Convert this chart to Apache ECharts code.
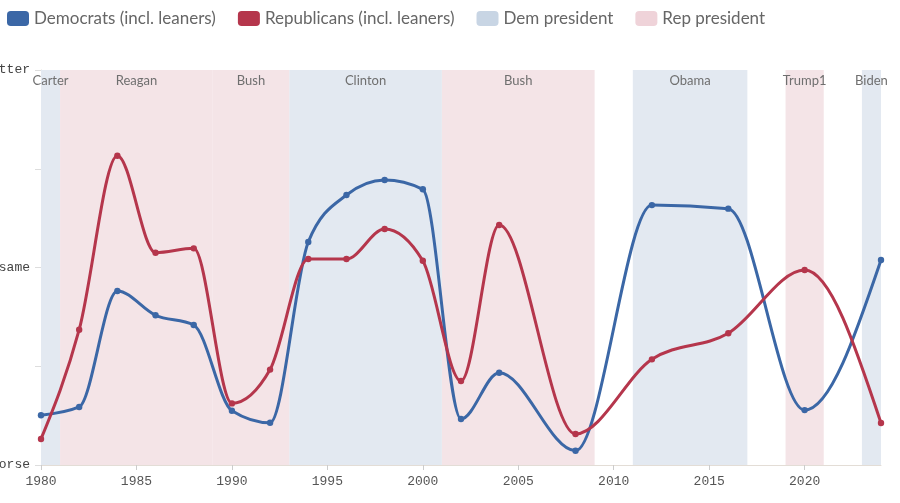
<!DOCTYPE html>
<html>
<head>
<meta charset="utf-8">
<script src="https://cdn.jsdelivr.net/npm/echarts@6/dist/echarts.min.js"></script>
<style>
  html, body { margin: 0; padding: 0; background: #fff; }
  #chart { width: 900px; height: 503px; }
</style>
</head>
<body>
<div id="chart"></div>
<script>
// survey years
const years = [1980, 1982, 1984, 1986, 1988, 1990, 1992, 1994, 1996, 1998, 2000, 2002, 2004, 2008, 2012, 2016, 2020, 2024];
// -1 = worse, 0 = same, 1 = better
const demValues = [-0.748, -0.706, -0.119, -0.242, -0.291, -0.725, -0.786, 0.129, 0.367, 0.443, 0.396, -0.767, -0.533, -0.928, 0.316, 0.298, -0.722, 0.038];
const repValues = [-0.868, -0.315, 0.566, 0.075, 0.097, -0.688, -0.517, 0.043, 0.043, 0.195, 0.034, -0.575, 0.215, -0.843, -0.465, -0.333, -0.013, -0.787];

const yTickLabels = { '-1': 'worse', '0': 'same', '1': 'better' };

// presidencies [name, start, end]
const demPresidents = [['Carter', 1980, 1981], ['Clinton', 1993, 2001], ['Obama', 2011, 2017], ['Biden', 2023, 2024]];
const repPresidents = [['Reagan', 1981, 1989], ['Bush', 1989, 1993], ['Bush', 2001, 2009], ['Trump1', 2019, 2021]];

const DEM = '#3b67a6';
const REP = '#b5364c';
const FONT = 'Lato, "Noto Sans", sans-serif';
const MONO = '"Liberation Mono", "DejaVu Sans Mono", monospace';

function toAreas(list) {
  return list.map(([name, from, to]) => [{ name, xAxis: from }, { xAxis: to }]);
}

// monotone-x tangents (same as d3.curveMonotoneX), in pixel space
function sign(v) { return v < 0 ? -1 : 1; }
function tangents(pts) {
  const n = pts.length;
  const t = new Array(n).fill(0);
  for (let i = 1; i < n - 1; i++) {
    const h0 = pts[i][0] - pts[i - 1][0];
    const h1 = pts[i + 1][0] - pts[i][0];
    const s0 = (pts[i][1] - pts[i - 1][1]) / h0;
    const s1 = (pts[i + 1][1] - pts[i][1]) / h1;
    const p = (s0 * h1 + s1 * h0) / (h0 + h1);
    t[i] = (sign(s0) + sign(s1)) * Math.min(Math.abs(s0), Math.abs(s1), 0.5 * Math.abs(p)) || 0;
  }
  if (n > 2) {
    const h = pts[1][0] - pts[0][0];
    t[0] = (3 * (pts[1][1] - pts[0][1]) / h - t[1]) / 2;
    const hl = pts[n - 1][0] - pts[n - 2][0];
    t[n - 1] = (3 * (pts[n - 1][1] - pts[n - 2][1]) / hl - t[n - 2]) / 2;
  }
  return t;
}

function curveRenderer(values, color) {
  return function (params, api) {
    const pts = years.map((y, i) => api.coord([y, values[i]]));
    const t = tangents(pts);
    const i = params.dataIndex;
    const children = [];
    if (i < pts.length - 1) {
      const [x0, y0] = pts[i];
      const [x1, y1] = pts[i + 1];
      const dx = (x1 - x0) / 3;
      children.push({
        type: 'bezierCurve',
        shape: {
          x1: x0, y1: y0, x2: x1, y2: y1,
          cpx1: x0 + dx, cpy1: y0 + dx * t[i],
          cpx2: x1 - dx, cpy2: y1 - dx * t[i + 1],
        },
        style: { stroke: color, lineWidth: 3, fill: null, lineCap: 'round' },
      });
    }
    children.push({
      type: 'circle',
      shape: { cx: pts[i][0], cy: pts[i][1], r: 3.2 },
      style: { fill: color },
      z2: 10,
    });
    return { type: 'group', children };
  };
}

const chart = echarts.init(document.getElementById('chart'));

const bandLabel = {
  show: true,
  position: 'insideTop',
  distance: 4,
  color: '#6f6f6f',
  fontSize: 13,
  fontFamily: FONT,
};

const option = {
  animation: false,
  legend: {
    left: 2,
    top: 5,
    itemWidth: 22,
    itemHeight: 15,
    itemGap: 22,
    icon: 'roundRect',
    textStyle: { color: '#666', fontSize: 17, fontFamily: FONT },
    data: ['Democrats (incl. leaners)', 'Republicans (incl. leaners)', 'Dem president', 'Rep president'],
  },
  grid: {
    left: 41,
    right: 19,
    top: 70,
    bottom: 38,
    outerBoundsMode: 'none',
    containLabel: false,
  },
  xAxis: {
    type: 'value',
    min: 1980,
    max: 2024,
    interval: 5,
    axisLine: { onZero: false, lineStyle: { color: '#e3ddd6' } },
    axisTick: { length: 5, lineStyle: { color: '#ccc' } },
    axisLabel: {
      color: '#555',
      fontSize: 13,
      margin: 10,
      fontFamily: MONO,
      showMaxLabel: false,
      formatter: (v) => String(v),
    },
    splitLine: { show: false },
  },
  yAxis: {
    type: 'value',
    min: -1,
    max: 1,
    interval: 0.5,
    axisLine: { show: true, onZero: false, lineStyle: { color: '#e3ddd6' } },
    axisTick: { show: true, length: 6, lineStyle: { color: '#ddd' } },
    axisLabel: {
      color: '#444',
      fontSize: 13,
      margin: 11,
      fontFamily: MONO,
      formatter: (v) => yTickLabels[String(v)] || '',
    },
    splitLine: { show: false },
  },
  series: [
    {
      name: 'Dem president',
      type: 'line',
      data: [],
      itemStyle: { color: '#c8d5e4' },
      markArea: {
        silent: true,
        itemStyle: { color: '#e3e9f1' },
        label: bandLabel,
        data: toAreas(demPresidents),
      },
    },
    {
      name: 'Rep president',
      type: 'line',
      data: [],
      itemStyle: { color: '#efd3d9' },
      markArea: {
        silent: true,
        itemStyle: { color: '#f4e4e7' },
        label: bandLabel,
        data: toAreas(repPresidents),
      },
    },
    {
      name: 'Democrats (incl. leaners)',
      type: 'custom',
      data: years.map((y, i) => [y, demValues[i]]),
      encode: { x: 0, y: 1 },
      itemStyle: { color: DEM },
      renderItem: curveRenderer(demValues, DEM),
      z: 3,
    },
    {
      name: 'Republicans (incl. leaners)',
      type: 'custom',
      data: years.map((y, i) => [y, repValues[i]]),
      encode: { x: 0, y: 1 },
      itemStyle: { color: REP },
      renderItem: curveRenderer(repValues, REP),
      z: 3,
    },
  ],
};

chart.setOption(option);
</script>
</body>
</html>
